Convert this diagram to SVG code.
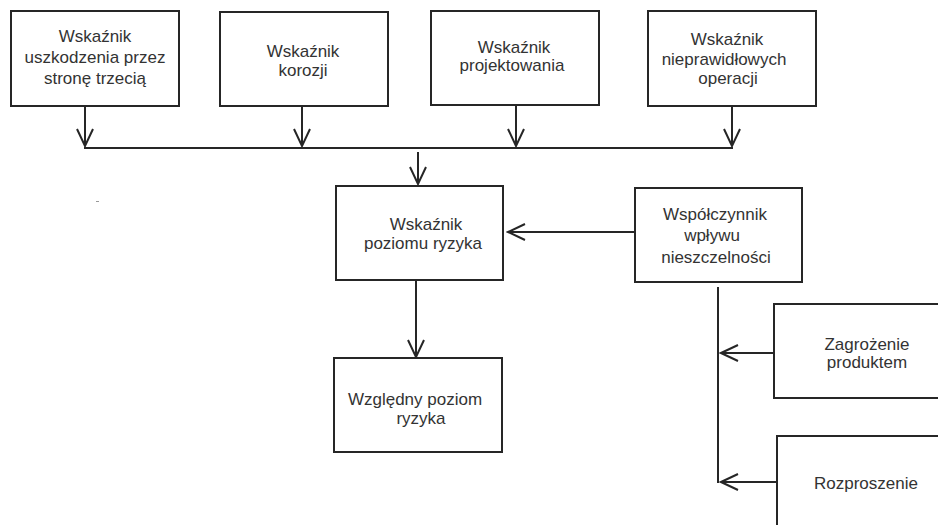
<svg xmlns="http://www.w3.org/2000/svg" width="938" height="525" viewBox="0 0 938 525">
<defs>
<style>
.box{fill:#fff;stroke:#262626;stroke-width:2}
.lbl{font-family:"Liberation Sans",Arial,sans-serif;font-size:17px;fill:#333;text-anchor:middle}
.con{fill:none;stroke:#262626;stroke-width:2}
.arr{marker-end:url(#v)}
</style>
<marker id="v" viewBox="0 0 20 20" refX="18" refY="10" markerWidth="20" markerHeight="20" markerUnits="userSpaceOnUse" orient="auto">
<path d="M1,2 L18,10 L1,18" fill="none" stroke="#262626" stroke-width="2"/>
</marker>
</defs>
<rect width="938" height="525" fill="#fff"/>
<rect x="96" y="201" width="3" height="1" fill="#999"/>

<g id="n-uszkodzenie">
<rect class="box" x="11" y="11" width="168" height="95"/>
<text class="lbl" x="95" y="42">Wskaźnik</text>
<text class="lbl" x="95" y="63">uszkodzenia przez</text>
<text class="lbl" x="95" y="84">stronę trzecią</text>
</g>
<g id="n-korozja">
<rect class="box" x="220" y="12" width="168" height="94"/>
<text class="lbl" x="303" y="57">Wskaźnik</text>
<text class="lbl" x="303" y="76">korozji</text>
</g>
<g id="n-projektowanie">
<rect class="box" x="431" y="11" width="168" height="94"/>
<text class="lbl" x="514" y="53">Wskaźnik</text>
<text class="lbl" x="512" y="71">projektowania</text>
</g>
<g id="n-operacje">
<rect class="box" x="648" y="11" width="168" height="95"/>
<text class="lbl" x="727" y="45">Wskaźnik</text>
<text class="lbl" x="724" y="65">nieprawidłowych</text>
<text class="lbl" x="728" y="84">operacji</text>
</g>
<g id="n-poziom">
<rect class="box" x="336" y="186" width="167" height="94"/>
<text class="lbl" x="426" y="230">Wskaźnik</text>
<text class="lbl" x="423" y="249">poziomu ryzyka</text>
</g>
<g id="n-wspolczynnik">
<rect class="box" x="635" y="188" width="167" height="94"/>
<text class="lbl" x="715" y="220">Współczynnik</text>
<text class="lbl" x="712" y="241">wpływu</text>
<text class="lbl" x="716" y="263">nieszczelności</text>
</g>
<g id="n-wzgledny">
<rect class="box" x="334" y="358" width="168" height="94"/>
<text class="lbl" x="415" y="405">Względny poziom</text>
<text class="lbl" x="421" y="424">ryzyka</text>
</g>
<g id="n-zagrozenie">
<rect class="box" x="774" y="304" width="175" height="94"/>
<text class="lbl" x="867" y="350">Zagrożenie</text>
<text class="lbl" x="867" y="368">produktem</text>
</g>
<g id="n-rozproszenie">
<rect class="box" x="777" y="436" width="175" height="100"/>
<text class="lbl" x="866" y="489">Rozproszenie</text>
</g>

<g id="connectors">
<line class="con arr" x1="85" y1="106" x2="85" y2="146"/>
<line class="con arr" x1="302" y1="106" x2="302" y2="146"/>
<line class="con arr" x1="516" y1="105" x2="516" y2="146"/>
<line class="con arr" x1="732" y1="106" x2="732" y2="146"/>
<line class="con" x1="84" y1="148" x2="733" y2="148"/>
<line class="con arr" x1="418" y1="152" x2="418" y2="184"/>
<line class="con arr" x1="635" y1="232" x2="508" y2="232"/>
<line class="con arr" x1="416" y1="280" x2="416" y2="357"/>
<line class="con" x1="718" y1="287" x2="718" y2="483"/>
<line class="con arr" x1="774" y1="353" x2="721" y2="353"/>
<line class="con arr" x1="777" y1="482" x2="721" y2="482"/>
</g>
</svg>
